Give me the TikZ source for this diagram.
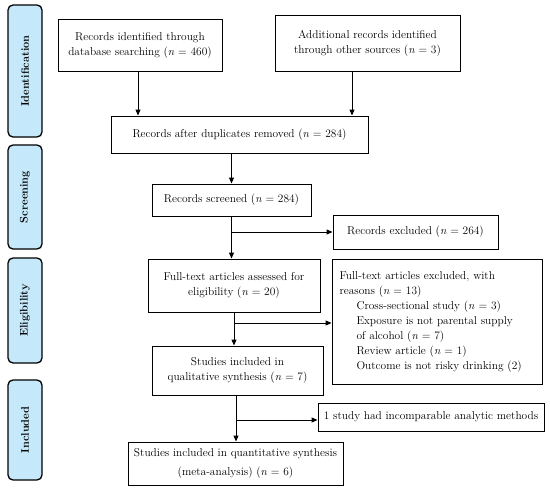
\documentclass[tikz,border=0pt]{standalone}
\usetikzlibrary{arrows.meta}
\definecolor{sidefill}{HTML}{C5E9FA}
\begin{document}
\begin{tikzpicture}[x=1pt,y=-1pt,
  box/.style={draw,line width=0.9pt,rectangle,inner sep=2pt,align=center,font=\fontsize{11.4}{15}\selectfont},
  side/.style={draw,line width=1.3pt,rounded corners=5pt,fill=sidefill,minimum width=34pt},
  sidetext/.style={rotate=90,font=\fontsize{11}{13}\selectfont\bfseries},
  arr/.style={line width=0.9pt,-{Triangle[length=6pt,width=5pt]}}]
\useasboundingbox (0,0) rectangle (550,490);
% side bars
\node[side,minimum height=132pt] (s1) at (25,71) {};
\node[sidetext] (t1) at (s1.center) {Identification};
\node[side,minimum height=104pt] (s2) at (25,197) {};
\node[sidetext] (t2) at (s2.center) {Screening};
\node[side,minimum height=105pt] (s3) at (25,310.5) {};
\node[sidetext] (t3) at (s3.center) {Eligibility};
\node[side,minimum height=100pt] (s4) at (25,430) {};
\node[sidetext] (t4) at (s4.center) {Included};
% main boxes
\node[box,minimum width=164pt,minimum height=52pt] (b1) at (140,45) {Records identified through\\database searching (\textit{n} = 460)};
\node[box,minimum width=185pt,minimum height=56pt] (b2) at (367.5,43) {Additional records identified\\through other sources (\textit{n} = 3)};
\node[box,minimum width=257pt,minimum height=37pt] (b3) at (239.5,134.5) {Records after duplicates removed (\textit{n} = 284)};
\node[box,minimum width=159pt,minimum height=32pt] (b4) at (231.5,200) {Records screened (\textit{n} = 284)};
\node[box,minimum width=165pt,minimum height=34pt] (e1) at (415.5,232) {Records excluded (\textit{n} = 264)};
\node[box,minimum width=172pt,minimum height=53pt] (b5) at (234,285.5) {Full-text articles assessed for\\eligibility (\textit{n} = 20)};
\node[box,minimum width=210pt,minimum height=125pt,align=left,text width=195pt,inner xsep=7.5pt] (e2) at (437,321.5) {Full-text articles excluded, with\\reasons (\textit{n} = 13)\\\hspace*{17pt}Cross-sectional study (\textit{n} = 3)\\\hspace*{17pt}Exposure is not parental supply\\\hspace*{17pt}of alcohol (\textit{n} = 7)\\\hspace*{17pt}Review article (\textit{n} = 1)\\\hspace*{17pt}Outcome is not risky drinking (2)};
\node[box,minimum width=171pt,minimum height=49pt] (b6) at (237.5,370.5) {Studies included in\\qualitative synthesis (\textit{n} = 7)};
\node[box,minimum width=226pt,minimum height=28pt] (e3) at (431,417) {1 study had incomparable analytic methods};
\node[box,minimum width=215pt,minimum height=43pt,font=\fontsize{11.4}{19}\selectfont] (b7) at (235.5,463.5) {Studies included in quantitative synthesis\\(meta-analysis) (\textit{n} = 6)};
% connectors
\draw[arr] ([xshift=-2pt]b1.south) -- ([xshift=-2pt]b1.south |- b3.north);
\draw[arr] ([xshift=-15.5pt]b2.south) -- ([xshift=-15.5pt]b2.south |- b3.north);
\draw[arr] (b3.south -| b4.north) -- (b4.north);
\draw[arr] (b4.south) -- (b4.south |- b5.north);
\draw[arr] (b4.south |- e1.west) -- (e1.west);
\draw[arr] (b5.south) -- (b5.south |- b6.north);
\draw[arr] ([yshift=-1.5pt]b5.south |- e2.west) -- ([yshift=-1.5pt]e2.west);
\draw[arr] ([xshift=-1.5pt]b6.south) -- ([xshift=-1.5pt]b6.south |- b7.north);
\draw[arr] ([xshift=-1.5pt,yshift=-3pt]b6.south |- e3.west) -- ([yshift=-3pt]e3.west);
\end{tikzpicture}
\end{document}
